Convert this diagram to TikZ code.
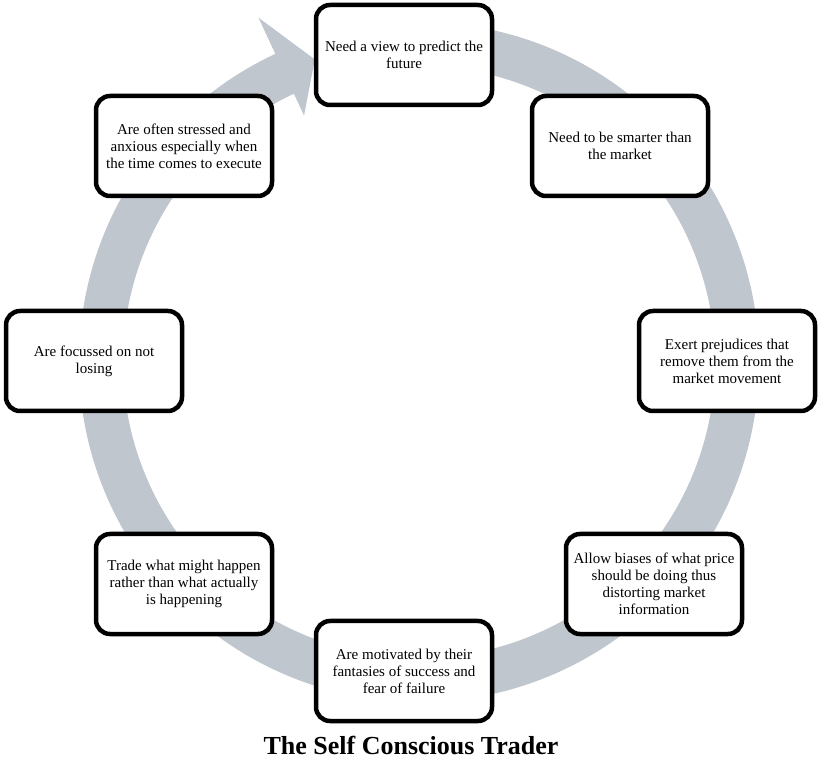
\documentclass[tikz,border=0pt]{standalone}
\usepackage{fontspec}
\setmainfont{Liberation Serif}
\usetikzlibrary{positioning}
\definecolor{ringgray}{RGB}{192,198,206}

\begin{document}
\begin{tikzpicture}[x=1pt,y=1pt,
  cyclebox/.style={draw=black,line width=4.5pt,rounded corners=14pt,fill=white,
    minimum width=176pt,minimum height=100pt,align=center,
    font=\fontsize{15}{17}\selectfont}]
  \useasboundingbox (0,0) rectangle (824,763);
  % circular arrow behind the boxes
  \begin{scope}[shift={(419,401)}]
    \fill[ringgray] (80:340) arc[start angle=80,end angle=-245,radius=340]
      -- (-245:380) -- (-251:320) -- (-245:272) -- (-245:296)
      arc[start angle=-245,end angle=80,radius=296] -- cycle;
  \end{scope}
  % the eight boxes, clockwise from the top
  \node[cyclebox] (view)      at (404,708) {Need a view to predict the\\future};
  \node[cyclebox] (smarter)   at (620,617) {Need to be smarter than\\the market};
  \node[cyclebox] (prejudice) at (727,402) {Exert prejudices that\\remove them from the\\market movement};
  \node[cyclebox] (biases)    at (654,179) {Allow biases of what price\\should be doing thus\\distorting market\\information};
  \node[cyclebox] (motivated) at (404,92)  {Are motivated by their\\fantasies of success and\\fear of failure};
  \node[cyclebox] (trade)     at (184,179) {Trade what might happen\\rather than what actually\\is happening};
  \node[cyclebox] (losing)    at (94,402)  {Are focussed on not\\losing};
  \node[cyclebox] (stressed)  at (184,617) {Are often stressed and\\anxious especially when\\the time comes to execute};
  \node[font=\fontsize{26}{30}\selectfont\bfseries] (title) at (411,17) {The Self Conscious Trader};
\end{tikzpicture}
\end{document}
